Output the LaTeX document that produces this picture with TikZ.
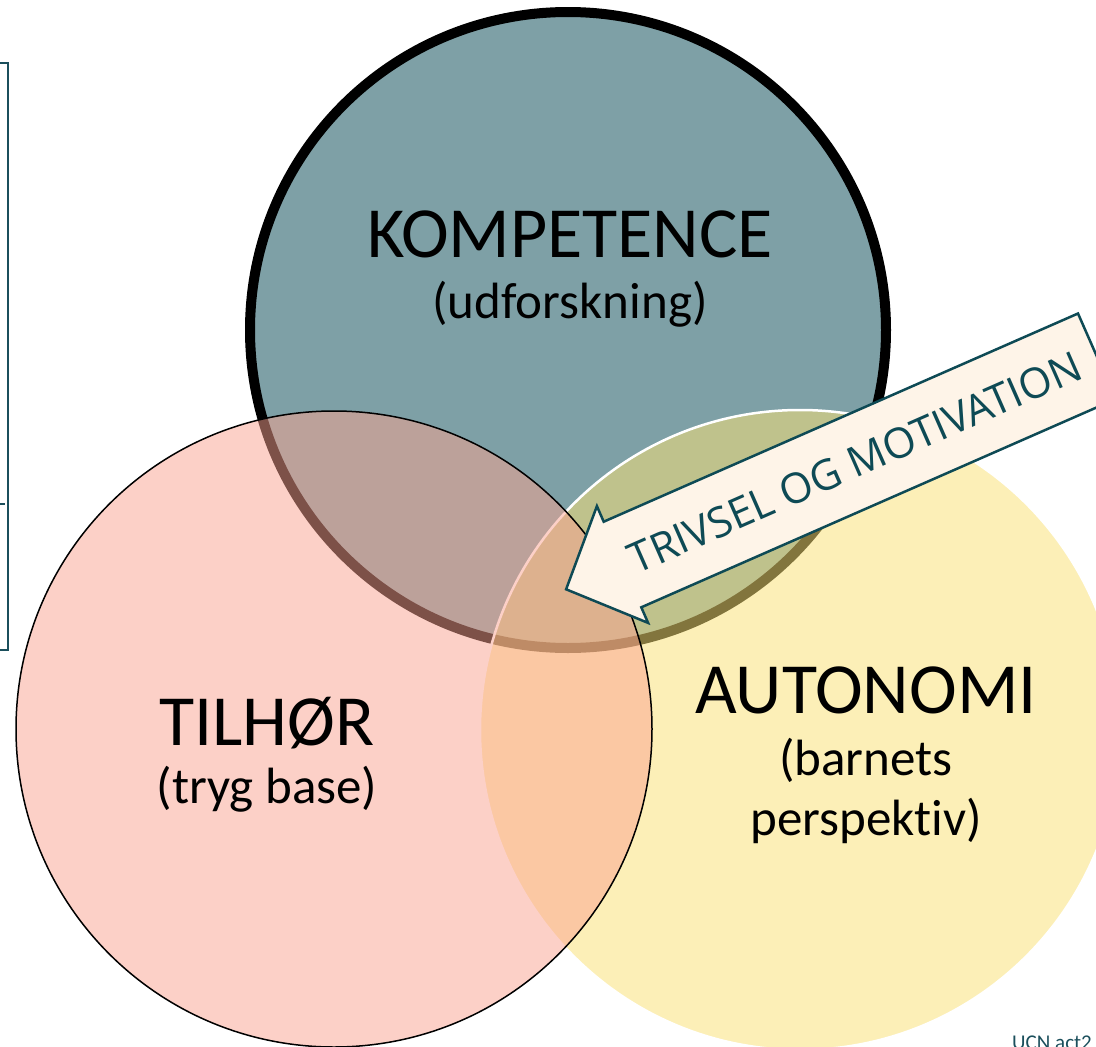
\documentclass[tikz,border=0pt]{standalone}
\usepackage{fontspec}
\setmainfont{Carlito}[Ligatures=NoCommon]
\newfontfamily\osans{Open Sans}
\definecolor{tealfill}{RGB}{126,160,166}
\definecolor{pinkbase}{RGB}{251,162,144}
\definecolor{yellowbase}{RGB}{251,226,118}
\definecolor{arrowfill}{RGB}{254,244,232}
\definecolor{arrowline}{RGB}{14,74,85}
\definecolor{boxline}{RGB}{27,79,92}
\tikzset{
  title/.style={anchor=base, inner sep=0pt, font=\fontsize{72}{72}\selectfont},
  subtitle/.style={anchor=base, inner sep=0pt, font=\fontsize{51}{51}\selectfont},
  arrowbox/.style={fill=arrowfill, draw=arrowline, line width=2.5pt, line join=miter},
  arrowtext/.style={inner sep=0pt, text=arrowline, font=\osans\fontsize{42}{42}\selectfont},
}
\begin{document}
\begin{tikzpicture}[x=1pt,y=-1pt]
\useasboundingbox (0,0) rectangle (1096,1047);
\clip (0,0) rectangle (1096,1047);
\fill[white] (0,0) rectangle (1096,1047);
% left box fragment
\draw[boxline, line width=2pt] (-5,63) -- (8,63) -- (8,650) -- (-5,650);
\draw[boxline, line width=2pt] (0,504) -- (5,504);
% circle centres
\coordinate (cK) at (568,330);
\coordinate (cA) at (800,730);
\coordinate (cT) at (334,729);
% KOMPETENCE circle
\draw[fill=tealfill, draw=black, line width=10pt] (cK) circle[radius=318pt];
% AUTONOMI circle
\fill[yellowbase, fill opacity=0.52] (cA) circle[radius=320pt];
\draw[white, line width=2.5pt] (cA) circle[radius=320pt];
% TILHOR circle
\fill[pinkbase, fill opacity=0.5] (cT) circle[radius=318pt];
\draw[black, line width=1.5pt] (cT) circle[radius=318pt];
% texts
\node[title] (kt) at (570,257) {KOMPETENCE};
\node[subtitle] (ks) at (570,318) {(udforskning)};
\node[title] (tt) at (267,745) {TILHØR};
\node[subtitle] (ts) at (267,803) {(tryg base)};
\node[title] (at) at (866,713) {AUTONOMI};
\node[subtitle] (as1) at (866,775) {(barnets};
\node[subtitle] (as2) at (866,835) {perspektiv)};
% arrow
\draw[arrowbox] (566.1,589.3) -- (596.9,506.1) -- (603.7,521.7) -- (1078,313.5)
  -- (1115.6,399.1) -- (641.3,607.3) -- (648.1,622.9) -- cycle;
\node[arrowtext, rotate=23.7] (arrtxt) at (855,462.4) {TRIVSEL OG MOTIVATION};
% footer
\node[anchor=base west, inner sep=0pt, text=boxline, font=\fontsize{21}{21}\selectfont] (ucn) at (1012,1049) {UCN act2};
\end{tikzpicture}
\end{document}
